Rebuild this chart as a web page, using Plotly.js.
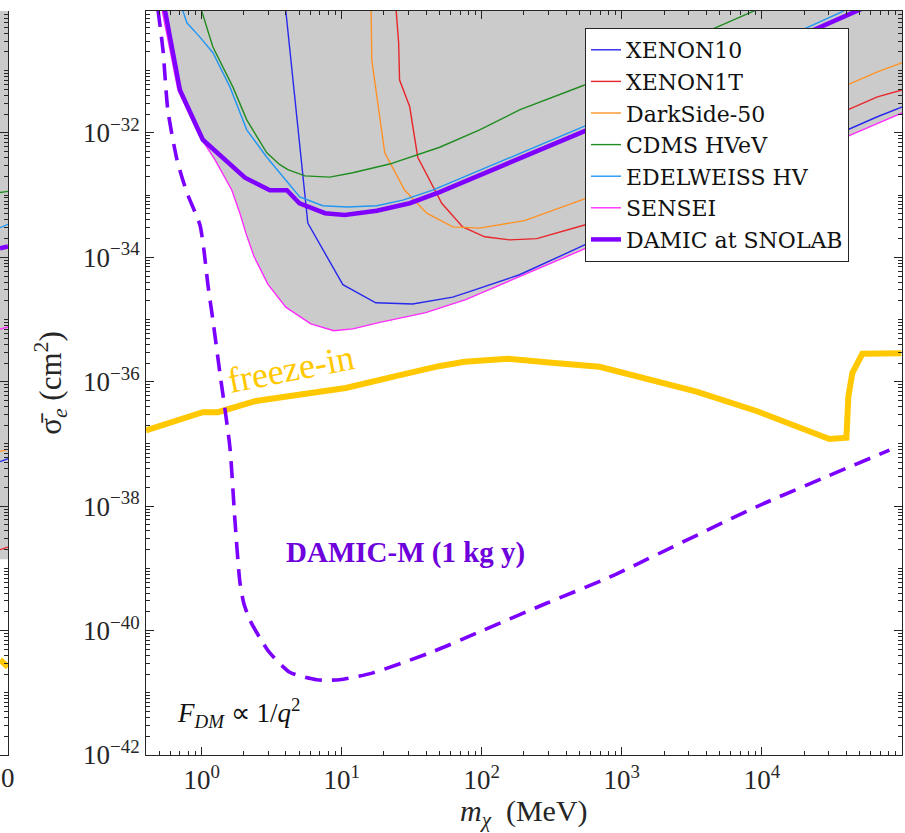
<!DOCTYPE html>
<html>
<head>
<meta charset="utf-8">
<script src="https://cdn.plot.ly/plotly-3.0.1.min.js"></script>
<style>html,body{margin:0;padding:0;background:#fff;}#chart{width:905px;height:833px;}</style>
</head>
<body>
<div id="chart"></div>
<script>
// ---- data (mass in MeV, cross-section in cm^2) ----
const xenon10_m = [3.95, 5.55, 5.73, 10.2, 17.5, 32.1, 62.0, 76.8, 186, 542, 66700, 100400];
const xenon10_s = [1.15e-30, 6.46e-34, 3.55e-34, 3.63e-35, 1.86e-35, 1.78e-35, 2.29e-35, 2.69e-35, 5.25e-35, 1.58e-34, 1.82e-32, 2.63e-32];

const xenon1t_m = [24.3, 25.5, 25.9, 30.6, 34.9, 51.8, 73.1, 105, 158, 247, 542, 66700, 100400];
const xenon1t_s = [1.15e-30, 2.82e-31, 7.08e-32, 2.63e-32, 4.07e-33, 7.41e-34, 3.09e-34, 2.14e-34, 1.91e-34, 2.00e-34, 3.31e-34, 3.80e-32, 4.90e-32];

const darkside_m = [16.2, 16.4, 20.3, 28.2, 40.5, 62.0, 96.6, 202, 542, 66700, 100400];
const darkside_s = [1.15e-30, 1.48e-31, 4.79e-33, 1.20e-33, 5.13e-34, 3.09e-34, 2.95e-34, 3.89e-34, 8.71e-34, 9.55e-32, 1.35e-31];

const cdms_m = [0.99, 1.005, 1.204, 1.671, 2.10, 2.92, 3.62, 4.13, 5.46, 8.22, 12.0, 22.0, 50.1, 96.6, 186, 542, 8550, 11300];
const cdms_s = [1.15e-30, 8.91e-31, 2.40e-31, 5.50e-32, 1.62e-32, 4.79e-33, 3.09e-33, 2.57e-33, 2.04e-33, 1.95e-33, 2.29e-33, 3.16e-33, 5.89e-33, 1.12e-32, 2.34e-32, 5.89e-32, 8.91e-31, 1.15e-30];

const edelweiss_m = [0.711, 0.785, 0.973, 1.204, 1.592, 2.10, 2.92, 3.80, 5.02, 7.33, 10.9, 17.8, 27.3, 44.6, 542, 20800, 37500, 42100];
const edelweiss_s = [1.15e-30, 5.89e-31, 3.47e-31, 1.95e-31, 5.50e-32, 1.12e-32, 4.07e-33, 1.95e-33, 9.33e-34, 6.76e-34, 6.46e-34, 6.76e-34, 8.32e-34, 1.20e-33, 1.29e-32, 4.90e-31, 8.91e-31, 1.07e-30];

const sensei_m = [0.513, 0.678, 0.973, 1.245, 1.644, 1.876, 2.07, 2.36, 2.97, 3.99, 6.02, 8.79, 12.0, 18.4, 39.8, 76.8, 100400];
const sensei_s = [1.15e-30, 4.90e-32, 8.71e-33, 3.72e-33, 1.20e-33, 5.13e-34, 2.45e-34, 1.05e-34, 3.72e-35, 1.58e-35, 8.51e-36, 6.61e-36, 7.08e-36, 8.91e-36, 1.29e-35, 2.09e-35, 2.09e-32];

const damic_m = [0.538, 0.70, 1.02, 2.04, 3.07, 4.06, 5.0, 7.6, 10.5, 17.8, 30.6, 50, 542, 47200, 68900];
const damic_s = [1.15e-30, 4.90e-32, 7.76e-33, 1.91e-33, 1.20e-33, 1.20e-33, 7.41e-34, 5.13e-34, 4.79e-34, 5.62e-34, 7.41e-34, 1.12e-33, 1.07e-32, 9.12e-31, 1.32e-30];

const freeze_m = [0.401, 1.02, 1.307, 2.44, 4.94, 10.7, 24.3, 49.3, 75.5, 153, 331, 693, 3410, 9140, 30300, 40100, 41400, 44200, 52100, 98900];
const freeze_s = [1.66e-37, 3.24e-37, 3.24e-37, 4.90e-37, 6.17e-37, 7.94e-37, 1.23e-36, 1.78e-36, 2.09e-36, 2.34e-36, 2.00e-36, 1.74e-36, 6.92e-37, 3.39e-37, 1.20e-37, 1.26e-37, 5.75e-37, 1.38e-36, 2.82e-36, 2.88e-36];

const damicM_m = [0.488, 0.530, 0.574, 0.667, 0.785, 0.973, 1.038, 1.109, 1.204, 1.351, 1.592, 1.728, 1.876, 2.00, 2.21, 2.61, 3.07, 4.26, 6.64, 9.69, 16.7, 44.6, 96.6, 290, 817, 9140, 81300];
const damicM_s = [9.55e-31, 2.14e-31, 2.34e-32, 3.72e-33, 1.10e-33, 3.31e-34, 1.32e-34, 3.63e-35, 9.77e-36, 1.38e-36, 8.91e-38, 6.03e-39, 6.03e-40, 2.75e-40, 1.48e-40, 7.59e-41, 4.37e-41, 2.14e-41, 1.62e-41, 1.62e-41, 2.09e-41, 4.57e-41, 9.55e-41, 2.75e-40, 7.24e-40, 9.77e-39, 7.94e-38];

// partially visible neighbouring panel at the far left (right end of its curves)
const leftPanel_x = [0, 1];
const leftGray_lower = [1.4e-39, 1.4e-39];
const leftGreen_s = [1.10e-33, 1.15e-33];
const leftLightBlue_s = [3.0e-34, 3.4e-34];
const leftPurple_s = [1.40e-34, 1.50e-34];
const leftMagenta_s = [7.0e-36, 7.6e-36];
const leftOrange_s = [7.6e-38, 8.2e-38];
const leftBlue_s = [5.2e-38, 5.8e-38];
const leftRed_s = [2.0e-39, 2.2e-39];
const leftYellow_s = [3.4e-41, 2.6e-41];

const xTickVals = [1, 10, 100, 1000, 10000];
const xTickText = ['10<sup>0</sup>', '10<sup>1</sup>', '10<sup>2</sup>', '10<sup>3</sup>', '10<sup>4</sup>'];
const yLabelExponents = [-42, -40, -38, -36, -34, -32];
const yOddExponents = [-41, -39, -37, -35, -33, -31];

// ---- layout constants ----
const FONT = 'Liberation Serif, Times New Roman, serif';
const LEG_FONT = 'DejaVu Serif, Liberation Serif, serif';
const AX = '#262626';
const X_RANGE = [-0.397, 5.0];
const Y_RANGE = [-42, -30.04];
const Y_FILL_TOP = Math.pow(10, Y_RANGE[1] + 2);
const W = 905, H = 833, ML = 0, MR = 3, MT = 11, MB = 78;
const PW = W - ML - MR, PH = H - MT - MB;
const px2x = p => (p - ML) / PW;
const px2y = p => (H - MB - p) / PH;

const yTickVals = yLabelExponents.map(e => Math.pow(10, e));
const yTickText = yLabelExponents.map(e => '10<sup>\u2212' + (-e) + '</sup>');
const yMinor = yOddExponents.map(e => Math.pow(10, e));
[-42, -41, -40, -39, -38, -37, -36, -35, -34, -33, -32, -31].forEach(e => { for (let d = 2; d <= 9; d++) yMinor.push(d * Math.pow(10, e)); });
const xMinor = [];
for (let e = -1; e <= 4; e++) for (let d = 2; d <= 9; d++) { const v = d * Math.pow(10, e); if (v > 0.4 && v < 1e5) xMinor.push(v); }

const thin = 1.4;
function line(name, x, y, color, width, extra) {
  return Object.assign({type: 'scatter', mode: 'lines', name: name, x: x, y: y,
    line: {color: color, width: width}, hoverinfo: 'skip'}, extra || {});
}

const grayFill = {
  type: 'scatter', mode: 'lines', x: sensei_m.concat([sensei_m[sensei_m.length - 1], sensei_m[0]]),
  y: sensei_s.concat([Y_FILL_TOP, Y_FILL_TOP]), fill: 'toself', fillcolor: '#cbcbcb',
  line: {width: 0, color: 'rgba(0,0,0,0)'}, showlegend: false, hoverinfo: 'skip'
};
const L2 = {showlegend: false, xaxis: 'x2', yaxis: 'y2'};

const traces = [
  grayFill,
  line('XENON10', xenon10_m, xenon10_s, '#2828ee', thin),
  line('XENON1T', xenon1t_m, xenon1t_s, '#e8262a', thin),
  line('DarkSide-50', darkside_m, darkside_s, '#ff9226', thin),
  line('CDMS HVeV', cdms_m, cdms_s, '#208c20', thin),
  line('EDELWEISS HV', edelweiss_m, edelweiss_s, '#2196f3', thin),
  line('SENSEI', sensei_m, sensei_s, '#ff2cff', thin),
  line('DAMIC at SNOLAB', damic_m, damic_s, '#8000ff', 4.5),
  line('freeze-in', freeze_m, freeze_s, '#ffc800', 6, {showlegend: false}),
  line('DAMIC-M (1 kg y)', damicM_m, damicM_s, '#7b00ff', 3.6, {showlegend: false,
    line: {color: '#7b00ff', width: 3.6, dash: '17px,10px', shape: 'spline', smoothing: 0.6}}),
  // left neighbour panel
  {type: 'scatter', mode: 'lines', x: leftPanel_x.concat([leftPanel_x[1], leftPanel_x[0]]),
   y: leftGray_lower.concat([Y_FILL_TOP, Y_FILL_TOP]), fill: 'toself', fillcolor: '#cbcbcb',
   line: {width: 0, color: 'rgba(0,0,0,0)'}, showlegend: false, hoverinfo: 'skip', xaxis: 'x2', yaxis: 'y2'},
  line('l-green', leftPanel_x, leftGreen_s, '#208c20', thin, L2),
  line('l-lightblue', leftPanel_x, leftLightBlue_s, '#2196f3', thin, L2),
  line('l-purple', leftPanel_x, leftPurple_s, '#8000ff', 4.5, L2),
  line('l-magenta', leftPanel_x, leftMagenta_s, '#ff2cff', thin, L2),
  line('l-orange', leftPanel_x, leftOrange_s, '#ff9226', thin, L2),
  line('l-blue', leftPanel_x, leftBlue_s, '#2828ee', thin, L2),
  line('l-red', leftPanel_x, leftRed_s, '#e8262a', thin, L2),
  line('l-yellow', leftPanel_x, leftYellow_s, '#ffc800', 6, L2)
];

const tickFont = {family: FONT, size: 27, color: AX};
const minorY = {tickmode: 'array', tickvals: yMinor, ticks: 'inside', ticklen: 4, tickcolor: AX, tickwidth: 1, showgrid: false};

const layout = {
  width: W, height: H,
  margin: {l: ML, r: MR, t: MT, b: MB},
  paper_bgcolor: '#ffffff', plot_bgcolor: '#ffffff',
  font: {family: FONT, color: AX},
  showlegend: true,
  xaxis: {
    type: 'log', range: X_RANGE, domain: [px2x(146), 1], anchor: 'y',
    showline: true, linecolor: AX, linewidth: 1, mirror: 'ticks',
    ticks: 'inside', ticklen: 8, tickcolor: AX, tickwidth: 1,
    tickmode: 'array', tickvals: xTickVals, ticktext: xTickText, tickfont: tickFont,
    ticklabelstandoff: 1,
    showgrid: false, zeroline: false,
    minor: {tickmode: 'array', tickvals: xMinor, ticks: 'inside', ticklen: 4, tickcolor: AX, tickwidth: 1, showgrid: false}
  },
  yaxis: {
    type: 'log', range: Y_RANGE, anchor: 'x',
    showline: true, linecolor: AX, linewidth: 1, mirror: 'ticks',
    ticks: 'inside', ticklen: 8, tickcolor: AX, tickwidth: 1,
    tickmode: 'array', tickvals: yTickVals, ticktext: yTickText, tickfont: tickFont,
    showgrid: false, zeroline: false, minor: minorY,
    title: {text: '\u03c3\u0304<sub><i>e</i></sub>\u00a0(cm<sup>2</sup>)', font: {family: FONT, size: 31, color: AX}, standoff: 12}
  },
  xaxis2: {
    domain: [0, px2x(8)], range: [0, 1], anchor: 'y2', showline: true, linecolor: AX, linewidth: 1,
    ticks: '', showticklabels: false, showgrid: false, zeroline: false
  },
  yaxis2: {
    type: 'log', range: Y_RANGE, anchor: 'x2', side: 'right', showline: true, linecolor: AX, linewidth: 1,
    ticks: 'inside', ticklen: 8, tickcolor: AX, tickmode: 'array', tickvals: yTickVals,
    showticklabels: false, showgrid: false, zeroline: false, minor: minorY
  },
  legend: {
    x: px2x(585), y: px2y(28), xanchor: 'left', yanchor: 'top',
    bgcolor: '#ffffff', bordercolor: AX, borderwidth: 1,
    font: {family: LEG_FONT, size: 22, color: '#111'},
    traceorder: 'normal', itemwidth: 30
  },
  annotations: [
    {xref: 'paper', yref: 'paper', x: px2x(524), y: px2y(813), text: '<i>m</i><sub><i>\u03c7</i></sub>\u00a0\u00a0(MeV)', showarrow: false,
     font: {family: FONT, size: 30, color: AX}, xanchor: 'center', yanchor: 'middle'},
    {xref: 'paper', yref: 'paper', x: px2x(291), y: px2y(369), text: 'freeze-in', showarrow: false,
     textangle: -11, font: {family: FONT, size: 36, color: '#ffc800'}, xanchor: 'center', yanchor: 'middle'},
    {xref: 'paper', yref: 'paper', x: px2x(405), y: px2y(552), text: '<b>DAMIC-M (1 kg y)</b>', showarrow: false,
     font: {family: FONT, size: 29, color: '#6e00dc'}, xanchor: 'center', yanchor: 'middle'},
    {xref: 'paper', yref: 'paper', x: px2x(238), y: px2y(713), text: '<i>F</i><sub><i>DM</i></sub> \u221d 1/<i>q</i><sup>2</sup>', showarrow: false,
     font: {family: FONT, size: 27, color: '#111'}, xanchor: 'center', yanchor: 'middle'},
    {xref: 'paper', yref: 'paper', x: px2x(17), y: px2y(778), text: '0', showarrow: false,
     font: {family: FONT, size: 27, color: AX}, xanchor: 'right', yanchor: 'middle'}
  ]
};

Plotly.newPlot('chart', traces, layout, {displayModeBar: false, staticPlot: true});
</script>
</body>
</html>
